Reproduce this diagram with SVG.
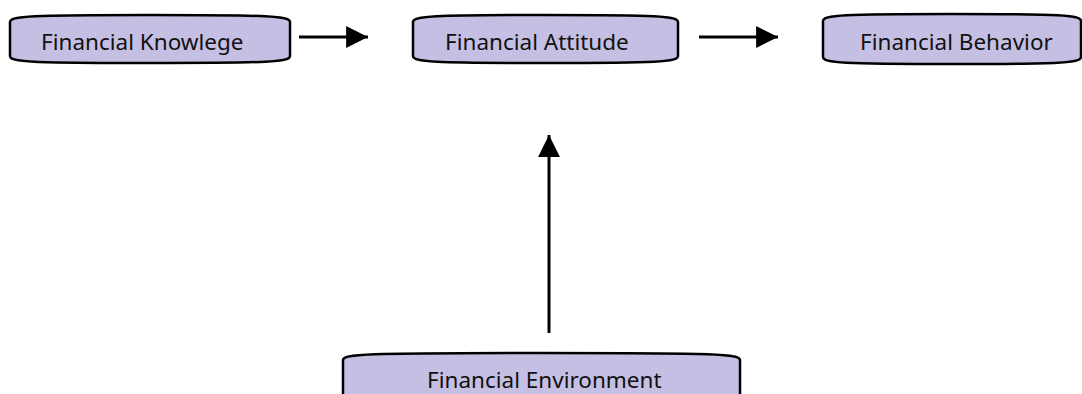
<svg xmlns="http://www.w3.org/2000/svg" width="1082" height="394" viewBox="0 0 1082 394">
  <style>
    .box { fill: #c6bfe4; stroke: #000; stroke-width: 2.5; }
    .label { font-family: "Noto Sans", "Open Sans", sans-serif; font-size: 22.5px; fill: #111; }
    .link { stroke: #000; stroke-width: 3; fill: none; }
  </style>
  <defs>
    <marker id="head" viewBox="0 0 10 10" refX="10" refY="5" markerWidth="7.5" markerHeight="7.3" markerUnits="strokeWidth" orient="auto">
      <path d="M0,0 L10,5 L0,10 Z" fill="#000"/>
    </marker>
  </defs>

  <g id="node-knowledge">
    <path class="box" d="M10,22 C10,16 30,15 150,15 C270,15 290,16 290,22 V56 C290,62 270,63 150,63 C30,63 10,62 10,56 Z"/>
    <text class="label" x="41" y="50">Financial Knowlege</text>
  </g>

  <g id="node-attitude">
    <path class="box" d="M413,22 C413,16 433,15 545,15 C658,15 678,16 678,22 V56 C678,62 658,63 545,63 C433,63 413,62 413,56 Z"/>
    <text class="label" x="445" y="50">Financial Attitude</text>
  </g>

  <g id="node-behavior">
    <path class="box" d="M823,21 C823,15 843,14 952,14 C1062,14 1081,15 1081,21 V57 C1081,63 1062,64 952,64 C843,64 823,63 823,57 Z"/>
    <text class="label" x="860" y="50">Financial Behavior</text>
  </g>

  <g id="node-environment">
    <path class="box" d="M343,360 C343,354 363,353 541,353 C720,353 740,354 740,360 V400 H343 Z"/>
    <text class="label" x="427" y="388">Financial Environment</text>
  </g>

  <g id="connectors">
    <line class="link" x1="299" y1="37" x2="368" y2="37" marker-end="url(#head)"/>
    <line class="link" x1="699" y1="37" x2="778" y2="37" marker-end="url(#head)"/>
    <line class="link" x1="549" y1="333" x2="549" y2="135" marker-end="url(#head)"/>
  </g>
</svg>
